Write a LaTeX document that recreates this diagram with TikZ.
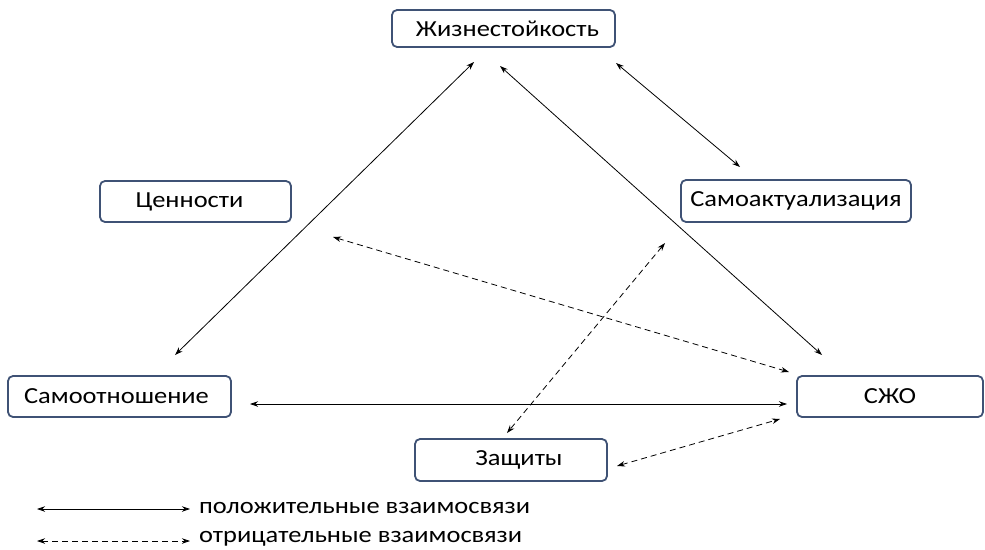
\documentclass[tikz,border=0pt]{standalone}
\usepackage{fontspec}
\setmainfont{Carlito}[FakeStretch=1.15]
\usetikzlibrary{arrows.meta}
\definecolor{boxc}{HTML}{3F5275}
\tikzset{
  box/.style={draw=boxc, line width=1.8pt, rounded corners=5pt, fill=white, inner sep=0pt, font=\fontsize{23}{26}\selectfont},
  poslink/.style={draw=black, line width=0.8pt, {Stealth[length=8pt,width=5.5pt]}-{Stealth[length=8pt,width=5.5pt]}},
  neglink/.style={poslink, dash pattern=on 6pt off 4pt},
  legtext/.style={anchor=west, inner sep=0pt, font=\fontsize{23}{26}\selectfont}
}
\begin{document}
\begin{tikzpicture}[x=1pt,y=-1pt]
\useasboundingbox (0,0) rectangle (985,549);
% boxes
\node[box, minimum width=223pt, minimum height=37pt] (zh) at (503.5,28.5) {\hspace*{8pt}Жизнестойкость};
\node[box, minimum width=191pt, minimum height=41pt] (cen) at (195.5,201.5) {\hspace*{-12pt}Ценности};
\node[box, minimum width=230pt, minimum height=42pt] (sa) at (796,201) {Самоактуализация};
\node[box, minimum width=223pt, minimum height=41pt] (so) at (119.5,396.5) {\hspace*{-6pt}Самоотношение};
\node[box, minimum width=186pt, minimum height=41pt] (szo) at (890,396.5) {СЖО};
\node[box, minimum width=192pt, minimum height=42pt] (zash) at (511,460) {\hspace*{16pt}Защиты};
% connector end points
\coordinate (so-zh1) at (175,355);
\coordinate (zh-so1) at (474,62);
\coordinate (zh-szo1) at (500,66);
\coordinate (szo-zh1) at (822,355);
\coordinate (zh-sa1) at (616,63);
\coordinate (sa-zh1) at (740,167);
\coordinate (so-szo1) at (250,404);
\coordinate (szo-so1) at (787,404);
\coordinate (mid-szo1) at (333,237);
\coordinate (szo-mid1) at (789,372);
\coordinate (sa-zash1) at (665,243);
\coordinate (zash-sa1) at (507,433);
\coordinate (zash-szo1) at (617,466);
\coordinate (szo-zash1) at (780,419);
% connectors
\draw[poslink] (so-zh1) -- (zh-so1);
\draw[poslink] (zh-szo1) -- (szo-zh1);
\draw[poslink] (zh-sa1) -- (sa-zh1);
\draw[poslink] (so-szo1) -- (szo-so1);
\draw[neglink] (mid-szo1) -- (szo-mid1);
\draw[neglink] (sa-zash1) -- (zash-sa1);
\draw[neglink] (zash-szo1) -- (szo-zash1);
% legend
\coordinate (l1a) at (37,509);
\coordinate (l1b) at (190,509);
\coordinate (l2a) at (37,541);
\coordinate (l2b) at (190,541);
\draw[poslink] (l1a) -- (l1b);
\draw[neglink] (l2a) -- (l2b);
\node[legtext] (lt1) at (199,508) {положительные взаимосвязи};
\node[legtext] (lt2) at (199,539) {отрицательные взаимосвязи};
\end{tikzpicture}
\end{document}
